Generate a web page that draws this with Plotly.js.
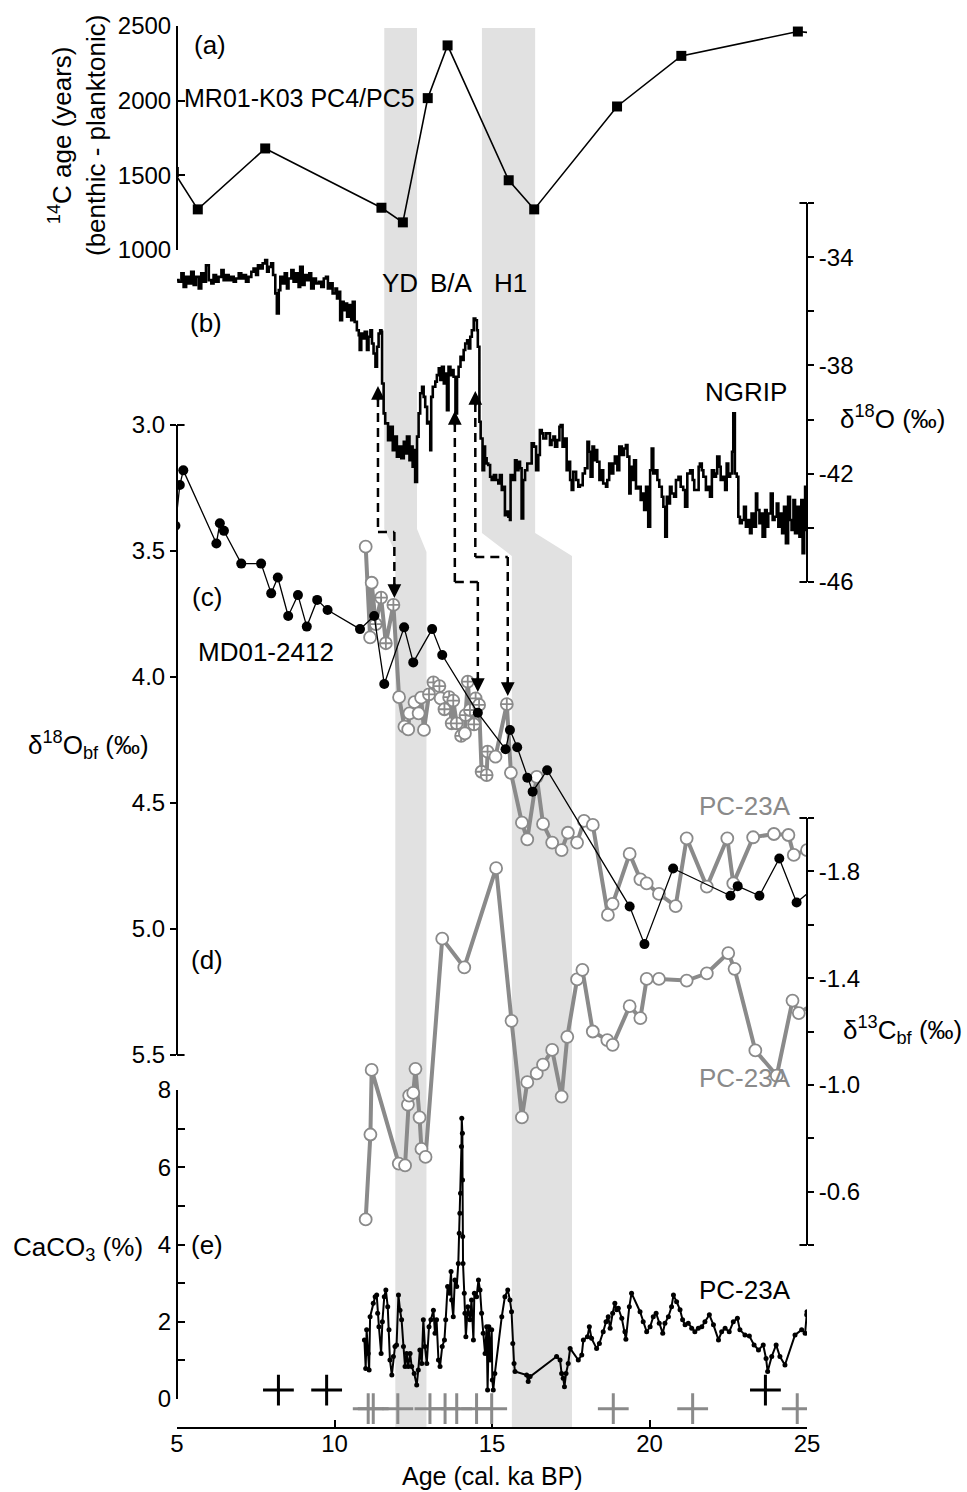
<!DOCTYPE html>
<html><head><meta charset="utf-8">
<script src="https://cdn.plot.ly/plotly-3.0.1.min.js"></script>
<style>body{margin:0;background:#fff}</style>
</head><body><div id="chart" style="width:967px;height:1492px"></div>
<script>
// ---------- (a) MR01-K03 PC4/PC5 : 14C age difference (benthic - planktonic) ----------
const ageA  = [4.90, 5.66, 7.80, 11.49, 12.17, 12.96, 13.59, 15.53, 16.34, 18.97, 21.01, 24.71, 25.40];
const dAgeA = [1523, 1272, 1680, 1283, 1185, 2017, 2370, 1467, 1272, 1961, 2300, 2463, 2450];

// ---------- (b) NGRIP d18O ----------
const ngAge = [
5.00,5.05,5.14,5.21,5.29,5.37,5.45,5.53,5.60,5.69,
5.77,5.85,5.92,6.01,6.09,6.16,6.24,6.32,6.41,6.48,
6.56,6.64,6.72,6.80,6.87,6.96,7.04,7.12,7.19,7.27,
7.36,7.43,7.51,7.57,7.65,7.72,7.80,7.86,7.91,7.99,
8.05,8.12,8.17,8.23,8.28,8.35,8.42,8.49,8.54,8.63,
8.70,8.78,8.86,8.91,8.99,9.05,9.13,9.20,9.26,9.34,
9.41,9.50,9.58,9.66,9.73,9.79,9.87,9.94,10.03,10.08,
10.15,10.18,10.24,10.29,10.34,10.40,10.45,10.53,10.58,10.64,
10.71,10.77,10.80,10.85,10.89,10.96,11.03,11.08,11.14,11.19,
11.24,11.30,11.35,11.40,11.45,11.49,11.51,11.56,11.61,11.70,
11.77,11.85,11.91,11.98,12.04,12.12,12.20,12.25,12.30,12.38,
12.44,12.48,12.52,12.56,12.62,12.67,12.72,12.78,12.83,12.88,
12.94,12.99,13.04,13.07,13.12,13.20,13.25,13.31,13.36,13.41,
13.47,13.52,13.57,13.62,13.68,13.73,13.78,13.84,13.89,13.94,
14.00,14.05,14.10,14.15,14.21,14.26,14.31,14.36,14.42,14.47,
14.52,14.55,14.60,14.64,14.70,14.75,14.78,14.83,14.88,14.94,
14.99,15.06,15.13,15.20,15.25,15.31,15.36,15.41,15.47,15.52,
15.57,15.59,15.66,15.73,15.78,15.84,15.89,15.94,15.99,16.05,
16.12,16.19,16.26,16.33,16.40,16.47,16.52,16.58,16.63,16.72,
16.79,16.84,16.89,16.95,17.00,17.07,17.14,17.18,17.24,17.30,
17.37,17.42,17.48,17.53,17.58,17.67,17.74,17.79,17.88,17.95,
18.03,18.08,18.13,18.19,18.24,18.30,18.34,18.41,18.48,18.53,
18.62,18.66,18.72,18.80,18.85,18.90,18.98,19.04,19.12,19.19,
19.25,19.30,19.36,19.40,19.47,19.51,19.57,19.65,19.72,19.78,
19.83,19.89,19.96,20.02,20.07,20.12,20.19,20.25,20.31,20.39,
20.44,20.50,20.55,20.61,20.65,20.70,20.78,20.84,20.92,20.99,
21.07,21.13,21.20,21.29,21.37,21.42,21.50,21.56,21.60,21.66,
21.71,21.79,21.86,21.92,21.98,22.05,22.11,22.15,22.22,22.26,
22.32,22.40,22.45,22.50,22.56,22.62,22.66,22.71,22.77,22.82,
22.87,22.93,23.00,23.06,23.14,23.19,23.24,23.32,23.38,23.42,
23.49,23.53,23.59,23.67,23.72,23.77,23.85,23.91,23.97,24.04,
24.09,24.14,24.21,24.27,24.33,24.40,24.46,24.51,24.57,24.62,
24.69,24.76,24.82,24.86,24.91,24.94,25.00];
const ngD18O = [
-34.85,-34.91,-34.60,-35.10,-34.73,-34.97,-34.54,-35.03,-34.73,-35.16,
-34.60,-34.91,-34.30,-34.85,-34.97,-34.66,-34.91,-34.73,-34.48,-34.85,
-34.66,-34.85,-34.73,-34.91,-34.79,-34.60,-34.79,-34.66,-34.91,-34.73,
-34.54,-34.42,-34.66,-34.30,-34.42,-34.23,-34.11,-34.54,-34.36,-34.23,
-34.66,-35.34,-36.08,-35.22,-34.73,-34.97,-34.60,-35.16,-34.79,-34.48,
-34.91,-34.60,-35.10,-34.36,-35.03,-34.66,-34.85,-34.60,-35.16,-34.79,
-34.97,-34.91,-35.10,-34.79,-34.73,-35.16,-34.97,-35.34,-35.16,-35.53,
-35.28,-36.33,-35.65,-35.96,-35.71,-36.20,-35.77,-36.33,-35.65,-36.39,
-36.70,-36.88,-37.43,-36.82,-37.00,-36.76,-37.43,-36.94,-36.70,-37.19,
-37.56,-38.05,-37.31,-36.82,-36.70,-36.76,-38.67,-39.77,-40.14,-40.76,
-40.27,-41.13,-40.63,-41.37,-41.00,-41.43,-40.82,-41.25,-40.63,-41.50,
-41.00,-41.74,-41.13,-42.30,-40.63,-39.77,-39.03,-38.79,-39.16,-39.53,
-40.14,-40.08,-41.13,-39.16,-38.79,-38.60,-38.36,-38.11,-38.54,-38.05,
-38.67,-38.30,-39.65,-38.05,-38.36,-38.17,-38.42,-39.77,-38.42,-38.05,
-37.68,-37.80,-37.43,-37.19,-37.07,-37.37,-36.94,-36.70,-36.27,-36.33,
-36.70,-37.31,-40.08,-40.70,-41.87,-41.00,-41.43,-41.62,-41.68,-42.11,
-42.23,-42.05,-42.23,-42.36,-42.05,-42.60,-42.48,-43.53,-43.40,-43.59,
-43.71,-42.05,-42.23,-41.50,-41.87,-41.56,-41.80,-43.65,-42.23,-41.87,
-41.62,-41.62,-40.88,-41.00,-41.87,-41.31,-40.39,-40.51,-40.70,-40.51,
-40.51,-40.94,-40.76,-40.63,-41.00,-40.76,-40.27,-40.20,-41.00,-40.70,
-41.87,-41.56,-42.23,-42.60,-41.93,-42.23,-42.48,-42.42,-41.99,-41.80,
-40.82,-41.19,-42.11,-41.00,-41.50,-41.13,-41.56,-42.23,-41.87,-42.36,
-42.48,-42.23,-41.62,-41.99,-41.62,-41.37,-41.87,-41.00,-41.31,-41.07,
-40.94,-41.37,-42.73,-41.74,-42.23,-41.50,-42.54,-42.48,-42.97,-42.73,
-43.34,-42.48,-43.96,-41.87,-41.07,-41.99,-41.87,-42.23,-42.48,-42.85,
-43.22,-44.33,-42.85,-43.10,-42.48,-42.73,-42.85,-42.23,-42.11,-42.48,
-42.60,-43.22,-41.99,-41.87,-42.23,-42.60,-42.60,-41.74,-41.62,-41.87,
-42.11,-42.60,-42.48,-42.85,-41.87,-42.11,-41.99,-41.37,-41.74,-42.23,
-42.11,-42.60,-41.62,-42.11,-41.99,-41.19,-39.77,-41.99,-42.11,-43.59,
-43.83,-43.71,-43.22,-43.96,-43.71,-44.20,-43.47,-43.96,-42.73,-43.34,
-43.83,-43.47,-44.33,-43.34,-43.96,-43.47,-42.73,-43.71,-43.59,-43.10,
-43.96,-43.47,-44.20,-43.22,-44.57,-42.85,-43.71,-44.08,-42.97,-44.20,
-43.22,-44.33,-42.97,-44.94,-44.08,-42.48,-42.48];

// ---------- (c) MD01-2412 benthic d18O ----------
const ageMD = [4.95,5.09,5.20,6.25,6.36,6.49,7.04,7.67,7.99,8.20,8.53,8.84,9.12,9.45,9.78,10.81,11.26,11.58,12.21,12.50,13.10,13.42,14.55,15.43,15.57,15.80,16.12,16.29,16.75,19.37,19.84,20.75,22.57,22.80,23.49,24.12,24.67,25.30];
const d18MD = [3.40,3.238,3.18,3.47,3.39,3.42,3.55,3.55,3.668,3.605,3.758,3.675,3.80,3.694,3.734,3.81,3.758,4.028,3.803,3.942,3.81,3.913,4.142,4.287,4.21,4.279,4.40,4.455,4.37,4.911,5.06,4.76,4.868,4.83,4.868,4.72,4.895,4.83];

// ---------- (c) PC-23A benthic d18O ('o' open circle, 'x' crossed circle) ----------
const pcAge18 = [10.99,11.13,11.18,11.31,11.48,11.63,11.87,12.05,12.22,12.34,12.38,12.54,12.67,12.75,12.84,13.00,13.14,13.33,13.37,13.49,13.64,13.72,13.77,13.88,14.02,14.14,14.16,14.23,14.30,14.43,14.48,14.59,14.67,14.83,14.86,15.11,15.47,15.60,15.95,16.12,16.42,16.62,16.91,17.21,17.41,17.70,17.92,18.20,18.68,18.83,19.37,19.71,19.91,20.30,20.83,21.18,21.82,22.47,22.66,23.29,23.95,24.41,24.58,25.00];
const pcD18 = [3.483,3.843,3.626,3.79,3.685,3.866,3.714,4.08,4.197,4.208,4.144,4.10,4.144,4.082,4.21,4.069,4.021,4.036,4.085,4.128,4.08,4.184,4.094,4.184,4.234,4.224,4.151,4.018,4.131,4.188,4.085,4.111,4.376,4.389,4.296,4.316,4.108,4.38,4.578,4.644,4.396,4.583,4.657,4.687,4.618,4.657,4.571,4.587,4.944,4.90,4.702,4.803,4.819,4.861,4.909,4.64,4.832,4.64,4.819,4.636,4.623,4.627,4.706,4.687];
const pcType18 = ['o','o','o','x','x','x','x','o','o','o','o','o','o','o','o','x','x','x','o','x','x','x','x','x','x','o','x','x','x','x','x','x','x','x','x','o','x','o',
 'o','o','o','o','o','o','o','o','o','o','o','o','o','o','o','o','o','o','o','o','o','o','o','o','o','o'];

// ---------- (d) PC-23A benthic d13C ----------
const pcAge13 = [10.99,11.14,11.18,12.04,12.24,12.33,12.37,12.50,12.57,12.70,12.76,12.89,13.42,14.12,15.13,15.62,15.95,16.12,16.42,16.62,16.91,17.21,17.39,17.70,17.87,18.20,18.66,18.83,19.37,19.71,19.91,20.30,21.18,21.82,22.50,22.70,23.36,24.04,24.54,24.74,25.30];
const pcD13 = [-0.496,-0.814,-1.056,-0.705,-0.698,-0.926,-0.96,-0.97,-1.06,-0.878,-0.76,-0.73,-1.548,-1.44,-1.812,-1.24,-0.878,-1.01,-1.043,-1.076,-1.131,-0.956,-1.18,-1.395,-1.431,-1.20,-1.168,-1.15,-1.295,-1.25,-1.397,-1.397,-1.391,-1.418,-1.494,-1.435,-1.129,-1.035,-1.316,-1.269,-1.31];

// ---------- (e) PC-23A CaCO3 ----------
const caAge = [
10.95,10.99,11.02,11.07,11.10,11.13,11.23,11.29,11.34,11.37,
11.41,11.48,11.52,11.58,11.63,11.69,11.73,11.76,11.82,11.87,
11.92,11.97,12.03,12.08,12.13,12.19,12.24,12.29,12.34,12.40,
12.45,12.53,12.61,12.66,12.71,12.77,12.82,12.87,12.93,13.00,
13.06,13.14,13.19,13.24,13.30,13.35,13.42,13.49,13.53,13.59,
13.65,13.70,13.72,13.77,13.82,13.88,13.93,13.96,13.98,14.00,
14.03,14.04,14.06,14.065,14.07,14.08,14.12,14.14,14.17,14.23,
14.30,14.35,14.41,14.44,14.51,14.57,14.62,14.67,14.72,14.78,
14.83,14.86,14.90,14.94,14.99,15.01,15.04,15.09,15.31,15.41,
15.50,15.57,15.62,15.66,15.70,15.73,
16.10,16.15,16.21,17.05,17.16,17.21,17.26,17.30,17.35,17.42,
17.48,17.74,17.85,17.90,18.03,18.09,18.16,18.32,18.41,18.53,
18.62,18.69,18.75,18.83,18.90,18.96,19.01,19.12,19.22,19.25,
19.36,19.43,19.70,19.80,19.91,20.02,20.12,20.21,20.31,20.42,
20.49,20.60,20.70,20.76,20.86,20.97,21.05,21.13,21.23,21.34,
21.44,21.55,21.66,21.76,21.90,22.03,22.19,22.29,22.40,22.53,
22.66,22.79,22.87,23.03,23.17,23.32,23.46,23.61,23.70,23.75,
23.88,24.02,24.14,24.30,24.62,24.83,24.94,24.99,25.00];
const caco3 = [
1.53,0.79,1.79,1.18,0.75,2.13,2.48,2.65,2.69,2.22,
1.87,1.18,2.00,2.65,2.82,2.39,1.79,1.01,0.62,1.10,
1.36,1.40,2.69,2.30,2.05,1.36,0.84,1.18,0.84,1.18,
0.84,0.66,0.36,0.75,1.27,0.92,2.05,1.36,0.92,1.87,
2.05,2.30,1.70,2.05,1.01,0.84,1.36,1.53,2.05,2.91,
2.74,3.30,2.56,2.13,3.08,2.91,3.51,4.29,4.81,5.33,
6.54,7.27,6.88,5.67,4.21,3.51,2.74,2.22,1.61,2.39,
2.05,2.56,1.53,2.74,2.65,3.08,2.82,2.22,1.70,1.18,
1.87,0.23,1.87,1.01,1.79,0.49,0.23,0.66,2.13,2.65,
2.82,2.56,2.26,1.44,0.92,0.71,
0.62,0.45,0.58,1.10,1.01,0.66,0.54,0.32,0.66,0.92,
1.31,1.01,1.14,1.53,1.61,1.87,1.57,1.31,1.44,1.74,
2.00,2.13,1.83,2.22,2.48,2.31,2.35,2.09,1.74,1.55,
2.39,2.74,2.26,2.00,1.74,1.87,2.13,2.22,1.96,1.70,
1.96,2.13,2.39,2.69,2.52,2.31,2.05,1.92,1.96,1.83,
1.74,1.83,1.87,2.00,2.18,1.92,1.53,1.74,1.83,1.74,
2.00,2.09,1.79,1.66,1.63,1.40,1.27,1.40,1.05,0.71,
1.10,1.40,1.10,0.88,1.66,1.79,1.70,2.18,2.26];

// ---------- age-control points (crosses) ----------
const datesGray  = [11.07, 11.23, 12.01, 13.03, 13.51, 13.88, 14.51, 14.99, 18.85, 21.37, 24.69];
const datesBlack = [8.22, 9.75, 23.68];

// ---------- event bands (ka) : [upper start, upper end, lower start, lower end] ----------
const bandYD = [11.58, 12.62, 11.93, 12.92];
const bandH1 = [14.68, 16.37, 15.63, 17.54];

// ---------- style / geometry ----------
const FONT = 'Liberation Sans, Arial, Helvetica, sans-serif';
const TXT = 26;      // label size
const TICK = 24;     // tick label size
const GRAY = '#8a8a8a';
const BAND = '#e1e1e1';
const py = p => (1428 - p) / 1428;   // page row -> paper y
const px = p => (p - 177) / 630;     // page column -> paper x

const traces = [
  {x: ngAge, y: ngD18O, yaxis: 'y2', type: 'scatter', mode: 'lines',
   line: {color: '#000', width: 2.6, shape: 'hv'}, hoverinfo: 'skip'},
  {x: ageA, y: dAgeA, yaxis: 'y', type: 'scatter', mode: 'lines+markers',
   line: {color: '#000', width: 1.6}, marker: {symbol: 'square', size: 10, color: '#000'}},
  {x: pcAge18, y: pcD18, yaxis: 'y3', type: 'scatter', mode: 'lines+markers',
   line: {color: GRAY, width: 4},
   marker: {size: 12, color: '#fff', symbol: pcType18.map(t => t === 'x' ? 'circle-cross' : 'circle'),
            line: {color: GRAY, width: 1.8}}},
  {x: pcAge13, y: pcD13, yaxis: 'y4', type: 'scatter', mode: 'lines+markers',
   line: {color: GRAY, width: 4},
   marker: {size: 12, color: '#fff', symbol: 'circle', line: {color: GRAY, width: 1.8}}},
  {x: ageMD, y: d18MD, yaxis: 'y3', type: 'scatter', mode: 'lines+markers',
   line: {color: '#000', width: 1.3}, marker: {symbol: 'circle', size: 10, color: '#000'}},
  {x: caAge, y: caco3, yaxis: 'y5', type: 'scatter', mode: 'lines+markers',
   line: {color: '#000', width: 2}, marker: {symbol: 'circle', size: 5, color: '#000'}},
  {x: datesGray, y: datesGray.map(() => -0.25), yaxis: 'y6', type: 'scatter', mode: 'markers',
   marker: {symbol: 'cross-thin-open', size: 22, color: GRAY, line: {color: GRAY, width: 3}}},
  {x: datesBlack, y: datesBlack.map(() => 0.23), yaxis: 'y6', type: 'scatter', mode: 'markers',
   marker: {symbol: 'cross-thin-open', size: 22, color: '#000', line: {color: '#000', width: 3}}}
];

const axBase = {showline: true, linecolor: '#000', linewidth: 2, showgrid: false, zeroline: false,
  tickcolor: '#000', tickwidth: 2, ticklen: 7, fixedrange: true,
  tickfont: {family: FONT, size: TICK, color: '#000'}};

function bandPath(b, topRow, kneeTop, kneeBot) {
  return `M ${b[0]},${py(topRow)} L ${b[1]},${py(topRow)} L ${b[1]},${py(kneeTop)} L ${b[3]},${py(kneeBot)} ` +
         `L ${b[3]},${py(1428)} L ${b[2]},${py(1428)} L ${b[2]},${py(kneeBot)} L ${b[0]},${py(kneeTop)} Z`;
}

const shapes = [
  {type: 'path', xref: 'x', yref: 'paper', path: bandPath(bandYD, 28, 529, 552), fillcolor: BAND, line: {width: 0}, layer: 'below'},
  {type: 'path', xref: 'x', yref: 'paper', path: bandPath(bandH1, 28, 533, 556), fillcolor: BAND, line: {width: 0}, layer: 'below'}
];

// dashed tie lines (NGRIP -> PC-23A)
const dash = {color: '#000', width: 2.5, dash: '9px,6px'};
function seg(x0, r0, x1, r1) { shapes.push({type: 'line', xref: 'x', yref: 'paper', x0: x0, y0: py(r0), x1: x1, y1: py(r1), line: dash}); }
seg(11.38, 398, 11.38, 532); seg(11.38, 532, 11.90, 532); seg(11.90, 532, 11.90, 588);
seg(13.82, 423, 13.82, 582); seg(13.82, 582, 14.55, 582); seg(14.55, 582, 14.55, 682);
seg(14.47, 403, 14.47, 557); seg(14.47, 557, 15.50, 557); seg(15.50, 557, 15.50, 686);

// bracket ends of the axes
const stub = 0.012;
function stubL(row) { shapes.push({type: 'line', xref: 'paper', yref: 'paper', x0: 0, x1: stub, y0: py(row), y1: py(row), line: {color: '#000', width: 2}}); }
function stubR(row) { shapes.push({type: 'line', xref: 'paper', yref: 'paper', x0: 1, x1: 1 - stub, y0: py(row), y1: py(row), line: {color: '#000', width: 2}}); }
stubL(425); stubL(1055);
stubR(203); stubR(582); stubR(818); stubR(1245);

const ann = [];
function txt(t, cx, cy, opts) { ann.push(Object.assign({text: t, x: px(cx), y: py(cy), xref: 'paper', yref: 'paper', showarrow: false,
  xanchor: 'center', yanchor: 'middle', font: {family: FONT, size: TXT, color: '#000'}}, opts || {})); }
function arrowHead(xv, row, up) { ann.push({text: '', x: xv, y: py(row), xref: 'x', yref: 'paper', showarrow: true,
  ax: 0, ay: up ? 16 : -16, arrowhead: 2, arrowsize: 1.1, arrowwidth: 2.5, arrowcolor: '#000', standoff: 0}); }

txt('(a)', 210, 45);
txt('MR01-K03 PC4/PC5', 182, 98, {xanchor: 'left', font: {family: FONT, size: 25, color: '#000'}});
txt('(b)', 206, 323);
txt('YD', 400, 283); txt('B/A', 451, 283); txt('H1', 510, 283);
txt('NGRIP', 746, 392);
txt('(c)', 207, 597);
txt('MD01-2412', 196, 652, {xanchor: 'left'});
txt('PC-23A', 745, 806, {font: {family: FONT, size: TXT, color: GRAY}});
txt('(d)', 207, 960);
txt('PC-23A', 745, 1078, {font: {family: FONT, size: TXT, color: GRAY}});
txt('(e)', 207, 1245);
txt('PC-23A', 745, 1290);
txt('<sup>14</sup>C age (years)<br>(benthic - planktonic)', 77, 136, {textangle: -90});
txt('δ<sup>18</sup>O (‰)', 892, 418);
txt('δ<sup>18</sup>O<sub>bf</sub> (‰)', 88, 745);
txt('δ<sup>13</sup>C<sub>bf</sub> (‰)', 903, 1030);
txt('CaCO<sub>3</sub> (%)', 78, 1248);
txt('Age (cal. ka BP)', 492, 1476, {font: {family: FONT, size: 25, color: '#000'}});

arrowHead(11.38, 386, true);  arrowHead(11.90, 598, false);
arrowHead(13.82, 411, true);  arrowHead(14.55, 692, false);
arrowHead(14.47, 391, true);  arrowHead(15.50, 696, false);

const layout = {
  width: 967, height: 1492,
  margin: {l: 177, r: 160, t: 0, b: 64},
  paper_bgcolor: '#fff', plot_bgcolor: 'rgba(0,0,0,0)',
  showlegend: false,
  font: {family: FONT, size: TXT, color: '#000'},
  xaxis: Object.assign({}, axBase, {domain: [0, 1], range: [5, 25], anchor: 'free', position: 0,
    ticks: 'inside', tickvals: [5, 10, 15, 20, 25], ticklabelstandoff: -6}),
  yaxis: Object.assign({}, axBase, {domain: [py(250), py(26)], range: [1000, 2500], anchor: 'free', position: 0,
    side: 'left', ticks: 'inside', tickvals: [1000, 1500, 2000, 2500]}),
  yaxis2: Object.assign({}, axBase, {domain: [py(582), py(203)], range: [-46, -32], anchor: 'free', position: 1,
    side: 'right', ticks: 'outside', ticklen: 6,
    tickvals: [-46, -44, -42, -40, -38, -36, -34, -32],
    ticktext: ['-46', '', '-42', '', '-38', '', '-34', '']}),
  yaxis3: Object.assign({}, axBase, {domain: [py(1055), py(425)], range: [5.5, 3.0], anchor: 'free', position: 0,
    side: 'left', ticks: 'outside', ticklen: 6,
    tickvals: [3.0, 3.5, 4.0, 4.5, 5.0, 5.5], ticktext: ['3.0', '3.5', '4.0', '4.5', '5.0', '5.5']}),
  yaxis4: Object.assign({}, axBase, {domain: [py(1245), py(818)], range: [-0.4, -2.0], anchor: 'free', position: 1,
    side: 'right', ticks: 'outside', ticklen: 6,
    tickvals: [-2.0, -1.8, -1.6, -1.4, -1.2, -1.0, -0.8, -0.6, -0.4],
    ticktext: ['', '-1.8', '', '-1.4', '', '-1.0', '', '-0.6', '']}),
  yaxis5: Object.assign({}, axBase, {domain: [py(1399), py(1090)], range: [0, 8], anchor: 'free', position: 0,
    side: 'left', ticks: 'inside', tickvals: [0, 1, 2, 3, 4, 5, 6, 7, 8],
    ticktext: ['0', '', '2', '', '4', '', '6', '', '8']}),
  yaxis6: {domain: [0, py(1090)], range: [-0.751, 8], anchor: 'free', position: 0, visible: false, fixedrange: true},
  shapes: shapes,
  annotations: ann
};

Plotly.newPlot('chart', traces, layout, {staticPlot: true});
</script></body></html>
